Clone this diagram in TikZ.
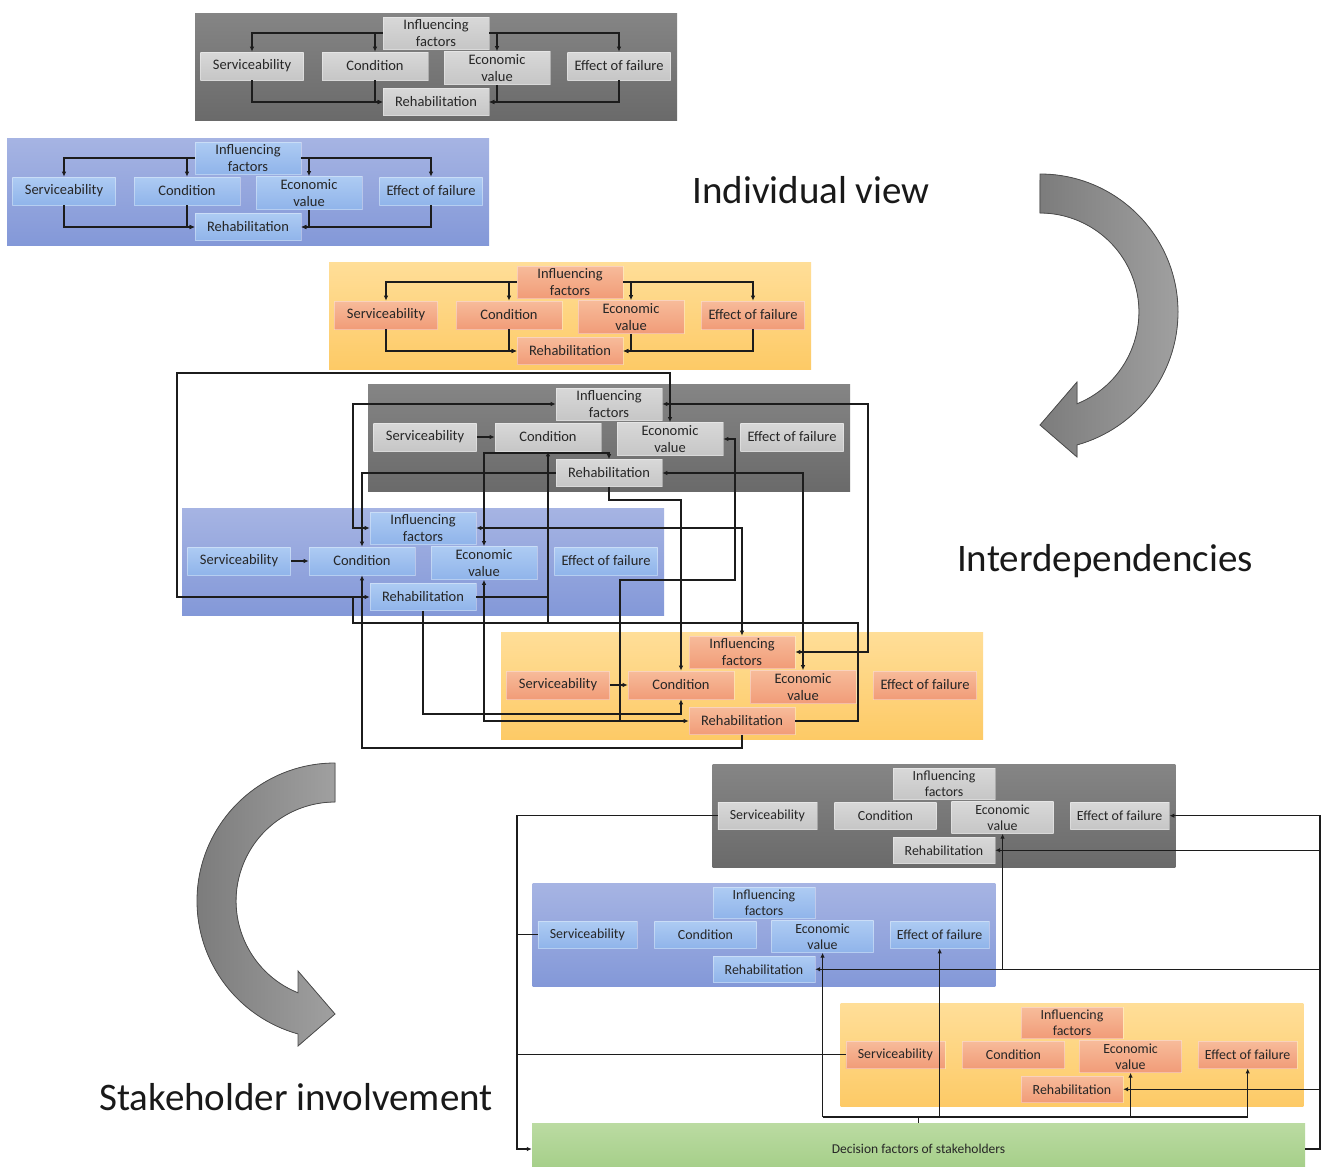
\documentclass[tikz,border=0pt]{standalone}
\usepackage{fontspec}
\setmainfont{Carlito}
\usetikzlibrary{arrows.meta}

\definecolor{gpTop}{HTML}{858585}
\definecolor{gpBot}{HTML}{6A6A6A}
\definecolor{gbTop}{HTML}{D8D8D8}
\definecolor{gbBot}{HTML}{C6C6C6}
\definecolor{bpTop}{HTML}{A6B4E3}
\definecolor{bpBot}{HTML}{8398D8}
\definecolor{bbTop}{HTML}{ADCBF3}
\definecolor{bbBot}{HTML}{90B4EA}
\definecolor{opTop}{HTML}{FFDE98}
\definecolor{opBot}{HTML}{FDCA66}
\definecolor{obTop}{HTML}{F7BB9A}
\definecolor{obBot}{HTML}{F19C78}
\definecolor{grTop}{HTML}{BBDBA2}
\definecolor{grBot}{HTML}{A2CD85}
\definecolor{nodetext}{HTML}{262626}
\definecolor{inkline}{HTML}{1C1C1C}
\definecolor{bendL}{HTML}{7C7C7C}
\definecolor{bendR}{HTML}{A0A0A0}
\definecolor{bendEdge}{HTML}{4D4D4D}

\newcommand\panelfont{\fontsize{14.5}{16.5}\selectfont}
\newcommand\titlefont{\fontsize{39}{45}\selectfont}

\tikzset{
  factorbox/.style={rectangle, inner sep=1pt, align=center, font=\panelfont,
    text=nodetext, draw=white, draw opacity=0.35, line width=0.6pt},
  wide/.style={minimum width=106pt, minimum height=28pt},
  narrow/.style={minimum width=103pt, minimum height=28pt},
  panelbg/.style={rectangle, inner sep=0pt, minimum width=482pt, minimum height=107pt},
  greypanel/.style={panelbg, top color=gpTop, bottom color=gpBot},
  greybox/.style={factorbox, top color=gbTop, bottom color=gbBot},
  bluepanel/.style={panelbg, top color=bpTop, bottom color=bpBot},
  bluebox/.style={factorbox, top color=bbTop, bottom color=bbBot},
  orangepanel/.style={panelbg, top color=opTop, bottom color=opBot},
  orangebox/.style={factorbox, top color=obTop, bottom color=obBot},
  greenbar/.style={rectangle, inner sep=0pt, font=\fontsize{13.5}{16}\selectfont,
    text=nodetext, top color=grTop, bottom color=grBot},
  link/.style={draw=inkline, line width=1.1pt},
  arr/.style={link, -{Latex[length=5pt,width=4.5pt]}},
  rarr/.style={link, {Latex[length=5pt,width=4.5pt]}-},
  biarr/.style={link, {Latex[length=5pt,width=4.5pt]}-{Latex[length=5pt,width=4.5pt]}},
  bentarrow/.style={left color=bendL, right color=bendR, draw=bendEdge, line width=0.8pt},
  headline/.style={font=\titlefont, text=black!90},
}

% one stakeholder panel: #1 prefix, #2 centre of "Influencing factors", #3 scale, #4 colour scheme
\newcommand\factorpanel[4]{%
  \begin{scope}[shift={#2}, scale=#3, transform shape]
    \node[#4panel] (#1-bg) at (0,33.5) {};
    \node[#4box, wide, minimum height=32pt] (#1-inf) at (0,0) {Influencing\\factors};
    \node[#4box, narrow] (#1-serv) at (-184,33) {Serviceability};
    \node[#4box, wide] (#1-cond) at (-61,33) {Condition};
    \node[#4box, wide, minimum height=33pt] (#1-econ) at (61,35) {Economic\\value};
    \node[#4box, narrow] (#1-eff) at (183,33) {Effect of failure};
    \node[#4box, wide, minimum height=27pt] (#1-reh) at (0,69) {Rehabilitation};
  \end{scope}}

% the influence tree inside a single panel
\newcommand\factortree[1]{%
  \draw[arr] (#1-inf.west) -| (#1-serv.north);
  \draw[arr] (#1-inf.west) -| (#1-cond.north);
  \draw[arr] (#1-inf.east) -| (#1-econ.north);
  \draw[arr] (#1-inf.east) -| (#1-eff.north);
  \draw[arr] (#1-serv.south) |- (#1-reh.west);
  \draw[arr] (#1-cond.south) |- (#1-reh.west);
  \draw[arr] (#1-econ.south) |- (#1-reh.east);
  \draw[arr] (#1-eff.south) |- (#1-reh.east);}

\begin{document}
\begin{tikzpicture}[x=1pt, y=-1pt]
\useasboundingbox (0,0) rectangle (1325,1167);
\clip (0,0) rectangle (1325,1167);
\fill[white] (0,0) rectangle (1325,1167);

% ---------- individual view ----------
\factorpanel{p1}{(436,33)}{1}{grey}
\factorpanel{p2}{(248,158)}{1}{blue}
\factorpanel{p3}{(570,282)}{1}{orange}
\factortree{p1}
\factortree{p2}
\factortree{p3}

% ---------- interdependencies ----------
\factorpanel{g4}{(609,404)}{1}{grey}
\factorpanel{b5}{(423,528)}{1}{blue}
\factorpanel{o6}{(742,652)}{1}{orange}

\draw[arr] (g4-serv.east) -- (g4-cond.west);
\draw[arr] (b5-serv.east) -- (b5-cond.west);
\draw[arr] (o6-serv.east) -- (o6-cond.west);

\coordinate (xa) at (177,0);
\coordinate (ya) at (0,373);
\coordinate (xb) at (353,0);
\coordinate (yc) at (0,623);
\coordinate (xd) at (858,0);
\coordinate (xe) at (868,0);
\coordinate (yf) at (0,748);
\coordinate (yg) at (0,714);
\coordinate (yh) at (0,453);
\coordinate (yi) at (0,500);
\coordinate (m10l) at (620,580);
\coordinate (m10r) at (735,580);

\draw[biarr] (b5-reh.west) -| (xa |- ya) -| (g4-econ.north);
\draw[biarr] (g4-inf.west) -| (xb |- b5-inf.west) -- (b5-inf.west);
\draw[arr] (g4-reh.west) -| (b5-cond.north);
\draw[biarr] (b5-econ.north) |- (g4-reh.north |- yh) -- (g4-reh.north);
\draw[rarr] (g4-cond.south) -- (g4-cond.south |- yc);
\draw[link] (b5-reh.east) -- (g4-cond.south |- b5-reh.east);
\draw[link] (xb |- b5-reh.west) |- (xd |- yc) |- (o6-reh.east);
\draw[biarr] (g4-inf.east) -| (xe |- o6-inf.east) -- (o6-inf.east);
\draw[biarr] (b5-inf.east) -| (o6-inf.north);
\draw[biarr] (g4-reh.east) -| (o6-econ.north);
\draw[arr] (g4-reh.south) |- (o6-cond.north |- yi) -- (o6-cond.north);
\draw[arr] (m10l |- o6-reh.west) -- (m10l) -- (m10r) |- (g4-econ.east);
\draw[biarr] (b5-econ.south) |- (o6-reh.west);
\draw[arr] (b5-reh.south) |- (o6-cond.south |- yg) -- (o6-cond.south);
\draw[arr] (o6-reh.south) |- (b5-cond.south |- yf) -- (b5-cond.south);

% ---------- stakeholder involvement ----------
\factorpanel{g7}{(944,784)}{0.96}{grey}
\factorpanel{b8}{(764,903)}{0.96}{blue}
\factorpanel{o9}{(1072,1023)}{0.96}{orange}
\node[greenbar, minimum width=773pt, minimum height=52pt] (green) at (918.5,1149)
  {Decision factors of stakeholders};

\coordinate (xl) at (517,0);
\coordinate (xr) at (1320,0);
\coordinate (yb) at (0,1117);

\draw[arr] (g7-serv.west) -| (xl |- green.west) -- (green.west);
\draw[link] (b8-serv.west) -- (xl |- b8-serv.west);
\draw[link] (o9-serv.west) -- (xl |- o9-serv.west);

\draw[arr] (green.east) -| (xr |- g7-eff.east) -- (g7-eff.east);
\draw[arr] (xr |- g7-reh.east) -- (g7-reh.east);
\draw[arr] (xr |- b8-reh.east) -- (b8-reh.east);
\draw[arr] (xr |- o9-reh.east) -- (o9-reh.east);
\draw[arr] (g7-econ.south |- b8-reh.east) -- (g7-econ.south);

\draw[link] (green.north) -- (green.north |- yb);
\draw[link] (b8-econ.south |- yb) -- (o9-eff.south |- yb);
\draw[arr] (b8-econ.south |- yb) -- (b8-econ.south);
\draw[arr] (b8-eff.south |- yb) -- (b8-eff.south);
\draw[arr] (o9-econ.south |- yb) -- (o9-econ.south);
\draw[arr] (o9-eff.south |- yb) -- (o9-eff.south);

% ---------- bent arrows between the stages ----------
\begin{scope}[shift={(1040,312)}]
  \filldraw[bentarrow] (0,-138) arc[start angle=-90, end angle=74.45, radius=138]
    -- (37,145) -- (0,113) -- (37,70) -- (37,91.8)
    arc[start angle=68, end angle=-90, radius=99] -- cycle;
\end{scope}
\begin{scope}[shift={(335,901)}, xscale=-1]
  \filldraw[bentarrow] (0,-138) arc[start angle=-90, end angle=74.45, radius=138]
    -- (37,145) -- (0,113) -- (37,70) -- (37,91.8)
    arc[start angle=68, end angle=-90, radius=99] -- cycle;
\end{scope}

% ---------- stage titles ----------
\node[headline] (t1) at (811,190) {Individual view};
\node[headline] (t2) at (1105,561) {Interdependencies};
\node[headline] (t3) at (296,1097) {Stakeholder involvement};
\end{tikzpicture}
\end{document}
